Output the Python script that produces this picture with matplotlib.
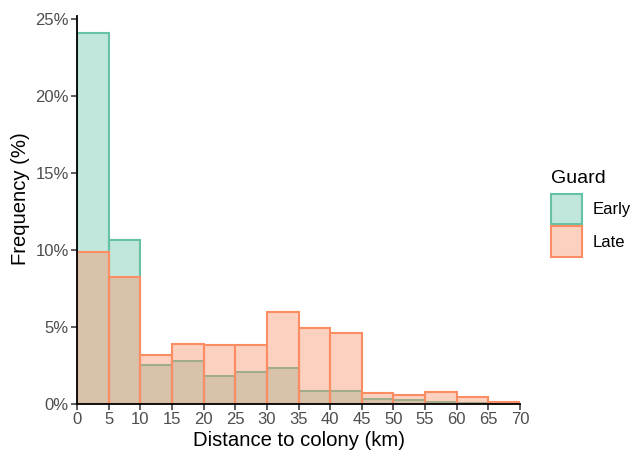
import numpy as np
import matplotlib
matplotlib.use("Agg")
from matplotlib import pyplot as plt
from matplotlib.patches import Patch
from matplotlib.ticker import FuncFormatter

plt.rcParams["font.family"] = ["Liberation Sans", "DejaVu Sans"]

bin_edges = np.arange(0, 75, 5)
groups = ["Early", "Late"]
early_pct = [24.1, 10.67, 2.52, 2.76, 1.77, 2.03, 2.29, 0.84, 0.80, 0.32, 0.21, 0.13, 0.03, 0.0]
late_pct = [9.84, 8.22, 3.15, 3.91, 3.84, 3.84, 5.98, 4.94, 4.62, 0.71, 0.56, 0.78, 0.45, 0.11]
colors = {"Early": "#66C2A5", "Late": "#FC8D62"}
x_ticks = list(range(0, 75, 5))
y_ticks = [0, 5, 10, 15, 20, 25]


def main():
    fig = plt.figure(figsize=(6.33, 4.55), dpi=100)
    ax = fig.add_axes([0.1216, 0.1127, 0.7, 0.852])

    left = bin_edges[:-1]
    width = np.diff(bin_edges)
    for name, vals in zip(groups, [early_pct, late_pct]):
        c = colors[name]
        ax.bar(left, vals, width=width, align="edge",
               facecolor=matplotlib.colors.to_rgba(c, 0.4),
               edgecolor=c, linewidth=1.5)

    ax.set_xlim(0, 70)
    ax.set_ylim(0, 25.2)
    ax.set_xticks(x_ticks)
    ax.set_yticks(y_ticks)
    ax.yaxis.set_major_formatter(FuncFormatter(lambda v, p: f"{v:.0f}%"))

    for s in ["top", "right"]:
        ax.spines[s].set_visible(False)
    for s in ["left", "bottom"]:
        ax.spines[s].set_linewidth(1.3)
        ax.spines[s].set_color("black")
    ax.tick_params(length=4, width=1.1, color="#333333", labelcolor="#4D4D4D",
                   labelsize=12, pad=2)

    ax.set_xlabel("Distance to colony (km)", fontsize=14.6, labelpad=3)
    ax.set_ylabel("Frequency (%)", fontsize=14.6)
    ax.yaxis.set_label_coords(-0.106, 0.53)

    handles = [Patch(facecolor=matplotlib.colors.to_rgba(colors[g], 0.4),
                     edgecolor=colors[g], linewidth=1.5, label=g) for g in groups]
    leg = ax.legend(handles=handles, title="Guard", frameon=False,
                    loc="upper left", bbox_to_anchor=(1.07, 0.604),
                    fontsize=12, title_fontsize=14,
                    handlelength=1.86, handleheight=2.48,
                    labelspacing=0.1, handletextpad=0.66, borderaxespad=0,
                    borderpad=0)
    leg._legend_box.align = "left"
    leg._legend_box.sep = 5

    fig.savefig("out.png", dpi=100)


if __name__ == "__main__":
    main()
